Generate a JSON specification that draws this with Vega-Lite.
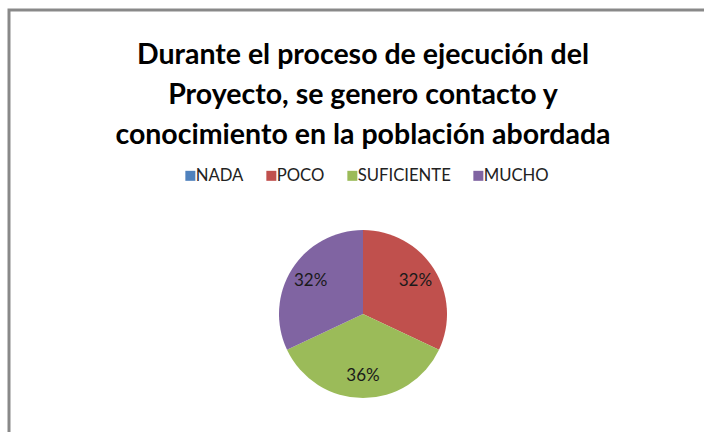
{
  "$schema": "https://vega.github.io/schema/vega-lite/v6.json",
  "autosize": "none",
  "width": 708,
  "height": 608,
  "padding": {"left": 9, "top": 10, "right": -13, "bottom": -186},
  "background": "white",
  "view": {"stroke": "#898989", "strokeWidth": 3, "fill": "white"},
  "config": {
    "arc": {"stroke": null},
    "font": "Lato"
  },
  "title": {
    "text": ["Durante el proceso de ejecución del", "Proyecto, se genero contacto y", "conocimiento en la población abordada"],
    "font": "Lato",
    "fontWeight": "bold",
    "fontSize": 28.5,
    "lineHeight": 40,
    "color": "#000000",
    "anchor": "middle",
    "frame": "group",
    "orient": "top",
    "offset": -139
  },
  "data": {
    "values": [
      {"categoria": "NADA", "valor": 0, "orden": 1, "etiqueta": "0%"},
      {"categoria": "POCO", "valor": 32, "orden": 2, "etiqueta": "32%"},
      {"categoria": "SUFICIENTE", "valor": 36, "orden": 3, "etiqueta": "36%"},
      {"categoria": "MUCHO", "valor": 32, "orden": 4, "etiqueta": "32%"}
    ]
  },
  "encoding": {
    "theta": {"field": "valor", "type": "quantitative", "stack": true},
    "order": {"field": "orden", "type": "quantitative"},
    "color": {
      "field": "categoria",
      "type": "nominal",
      "scale": {
        "domain": ["NADA", "POCO", "SUFICIENTE", "MUCHO"],
        "range": ["#4F81BD", "#C0504D", "#9BBB59", "#8064A2"]
      },
      "sort": ["NADA", "POCO", "SUFICIENTE", "MUCHO"],
      "legend": {
        "title": null,
        "orient": "none",
        "direction": "horizontal",
        "legendX": 173,
        "legendY": 157,
        "symbolType": "square",
        "symbolSize": 100,
        "symbolStrokeWidth": 0,
        "labelFont": "Lato",
        "labelFontSize": 16.7,
        "labelColor": "#222222",
        "labelOffset": -3,
        "columnPadding": 19
      }
    }
  },
  "layer": [
    {
      "mark": {"type": "arc", "outerRadius": 84}
    },
    {
      "transform": [{"filter": "datum.valor > 0"}],
      "mark": {"type": "text", "radius": 62, "font": "Lato", "fontSize": 17, "color": "#1a1a1a"},
      "encoding": {
        "text": {"field": "etiqueta", "type": "nominal"},
        "color": {"value": "#1a1a1a"}
      }
    }
  ]
}
